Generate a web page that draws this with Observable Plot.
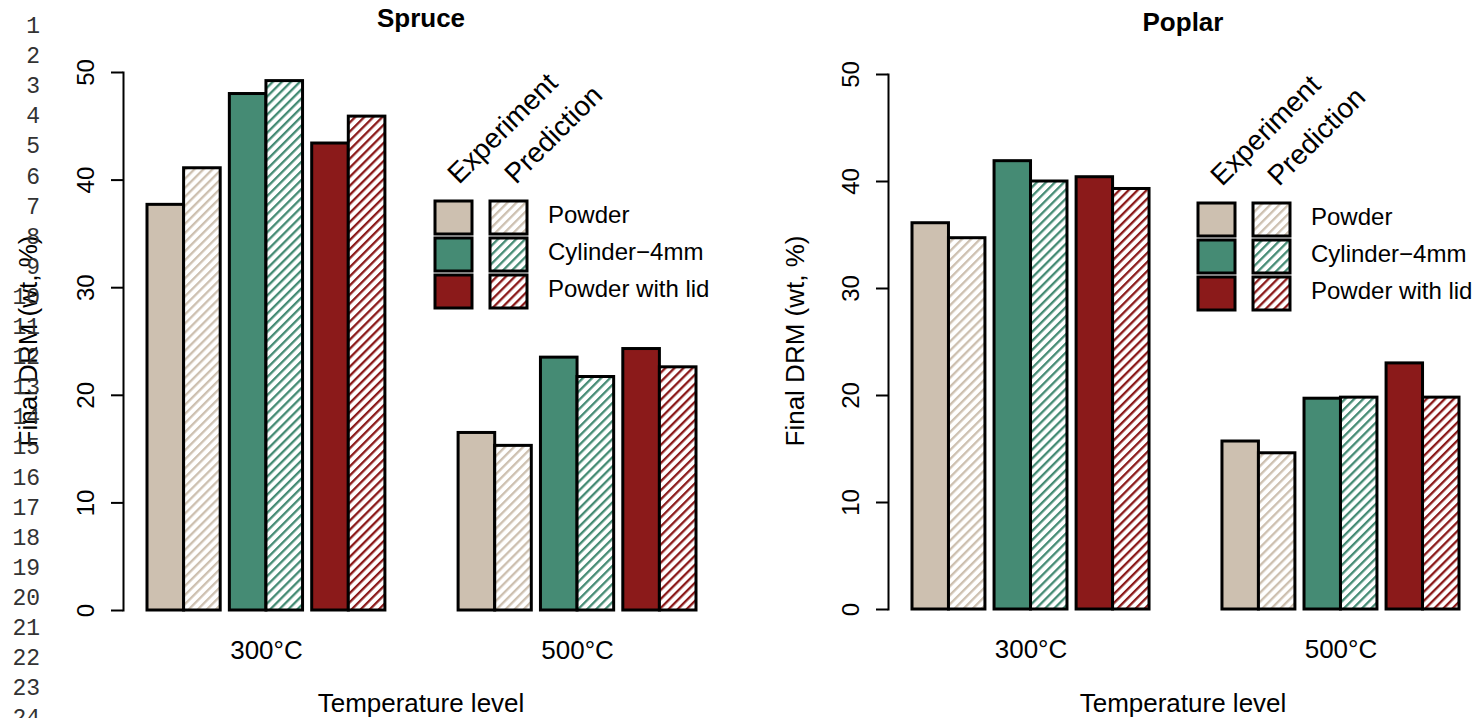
<!DOCTYPE html>
<html><head><meta charset="utf-8">
<script src="https://cdn.jsdelivr.net/npm/d3@7"></script>
<script src="https://cdn.jsdelivr.net/npm/@observablehq/plot@0.6"></script>
<style>
body{margin:0;background:#fff;}
#root{position:relative;width:1475px;height:718px;overflow:hidden;font-family:"Liberation Sans",Arial,sans-serif;color:#000;background:#fff;}
#root > svg{position:absolute;top:0;}
</style></head><body><div id="root"></div>
<script>
// ---- data ----
const temperatures = ["300°C", "500°C"];
const materials = ["Powder", "Cylinder\u22124mm", "Powder with lid"];
const kinds = ["Experiment", "Prediction"];
const materialColors = ["#CDC0B0", "#458B74", "#8B1A1A"];
const yTicks = [0, 10, 20, 30, 40, 50];
const panelTitles = ["Spruce", "Poplar"];
const xTitle = "Temperature level";
const yTitle = "Final DRM (wt, %)";
// values indexed [temperature][material]
const spruceExperiment = [[37.7, 48.0, 43.4], [16.5, 23.5, 24.3]];
const sprucePrediction = [[41.1, 49.2, 45.9], [15.3, 21.7, 22.6]];
const poplarExperiment = [[36.1, 41.9, 40.4], [15.7, 19.7, 23.0]];
const poplarPrediction = [[34.7, 40.0, 39.3], [14.6, 19.8, 19.8]];
const lineNumbers = [1,2,3,4,5,6,7,8,9,10,11,12,13,14,15,16,17,18,19,20,21,22,23,24];

// ---- layout helpers (R barplot-like spacing) ----
const pairGap = 0.25, groupGap = 2;
const groupWidth = materials.length * kinds.length + (materials.length - 1) * pairGap;
function slot(ti, mi, ki) { return ti * (groupWidth + groupGap) + mi * (kinds.length + pairGap) + ki; }
const totalWidth = temperatures.length * groupWidth + (temperatures.length - 1) * groupGap;

const keys = [], fills = [];
materials.forEach((m, mi) => kinds.forEach((k, ki) => {
  keys.push(m + "|" + k);
  fills.push(ki === 0 ? materialColors[mi] : `url(#hatch-${mi})`);
}));

function rows(exp, pred) {
  const out = [];
  temperatures.forEach((t, ti) => materials.forEach((m, mi) => kinds.forEach((k, ki) => {
    const x1 = slot(ti, mi, ki);
    out.push({temperature: t, material: m, kind: k, key: m + "|" + k, value: (ki ? pred : exp)[ti][mi], x1, x2: x1 + 1});
  })));
  return out;
}
const groupLabels = temperatures.map((t, ti) => ({temperature: t, center: slot(ti, 0, 0) + groupWidth / 2}));

const font = '"Liberation Sans", Arial, sans-serif';

function panel({data, left, width, marginLeft, marginTop, marginBottom, insetLeft, insetRight}) {
  const svg = Plot.plot({
    width, height: 718,
    marginLeft, marginRight: 0, marginTop, marginBottom,
    style: {fontFamily: font, fontSize: "24px", color: "#000", background: "transparent", overflow: "visible"},
    x: {type: "linear", domain: [0, totalWidth], insetLeft, insetRight, axis: null},
    y: {domain: [0, 50], axis: null},
    color: {type: "ordinal", domain: keys, range: fills},
    marks: [
      Plot.rect(data, {x1: "x1", x2: "x2", y1: 0, y2: "value", fill: "key", stroke: "#000", strokeWidth: 3}),
      Plot.axisY({ticks: yTicks, tickSize: 12, tickPadding: 18, tickRotate: -90, label: null, fontSize: 24, strokeWidth: 2}),
      Plot.frame({anchor: "left", strokeWidth: 2}),
      Plot.text(groupLabels, {x: "center", text: "temperature", frameAnchor: "bottom", dy: 48, fontSize: 26})
    ]
  });
  svg.style.left = left + "px";
  return svg;
}

const root = document.getElementById("root");
root.appendChild(panel({data: rows(spruceExperiment, sprucePrediction), left: 0, width: 760, marginLeft: 123, marginTop: 72, marginBottom: 108, insetLeft: 24, insetRight: 64}));
root.appendChild(panel({data: rows(poplarExperiment, poplarPrediction), left: 765, width: 710, marginLeft: 123, marginTop: 74, marginBottom: 109, insetLeft: 24, insetRight: 16}));

// ---- overlay: patterns, titles, axis titles, legends, line numbers ----
const ov = d3.select(root).append("svg").attr("width", 1475).attr("height", 718)
  .style("left", "0px").style("pointer-events", "none").style("font-family", font);
const defs = ov.append("defs");
materialColors.forEach((c, i) => {
  const p = defs.append("pattern").attr("id", `hatch-${i}`).attr("patternUnits", "userSpaceOnUse")
    .attr("width", 6.4).attr("height", 6.4).attr("patternTransform", "rotate(45)");
  p.append("rect").attr("width", 6.4).attr("height", 6.4).attr("fill", "#fff");
  p.append("rect").attr("width", 2.3).attr("height", 6.4).attr("fill", c);
});

const panels = [
  {cx: 421, titleY: 18, yLabelX: 28, legendX: 435, legendY: 201},
  {cx: 1183, titleY: 22, yLabelX: 795, legendX: 1198, legendY: 203}
];
panels.forEach((p, i) => {
  ov.append("text").attr("x", p.cx).attr("y", p.titleY).attr("text-anchor", "middle").attr("dy", "0.35em")
    .attr("font-size", 26).attr("font-weight", "bold").text(panelTitles[i]);
  ov.append("text").attr("x", p.cx).attr("y", 703).attr("text-anchor", "middle").attr("dy", "0.35em")
    .attr("font-size", 26).text(xTitle);
  ov.append("text").attr("transform", `translate(${p.yLabelX},341) rotate(-90)`).attr("text-anchor", "middle").attr("dy", "0.35em")
    .attr("font-size", 26).text(yTitle);
  // legend
  const g = ov.append("g").attr("transform", `translate(${p.legendX},${p.legendY})`);
  kinds.forEach((k, ki) => {
    g.append("text").attr("transform", `translate(${24 + ki * 57},-16) rotate(-45)`).attr("font-size", 28).text(k);
  });
  materials.forEach((m, mi) => {
    kinds.forEach((k, ki) => {
      g.append("rect").attr("x", ki * 55).attr("y", mi * 37).attr("width", 37).attr("height", 33)
        .attr("fill", ki === 0 ? materialColors[mi] : `url(#hatch-${mi})`).attr("stroke", "#000").attr("stroke-width", 3);
    });
    g.append("text").attr("x", 113).attr("y", mi * 37 + 14).attr("dy", "0.35em").attr("font-size", 24).text(m);
  });
});
// line numbers (page overlay)
lineNumbers.forEach((n, i) => {
  ov.append("text").attr("x", 40).attr("y", 25 + i * 30.1).attr("dy", "0.35em").attr("text-anchor", "end")
    .attr("font-family", '"Liberation Mono", "DejaVu Sans Mono", monospace').attr("font-size", 23).attr("fill", "#333").text(n);
});
</script></body></html>
